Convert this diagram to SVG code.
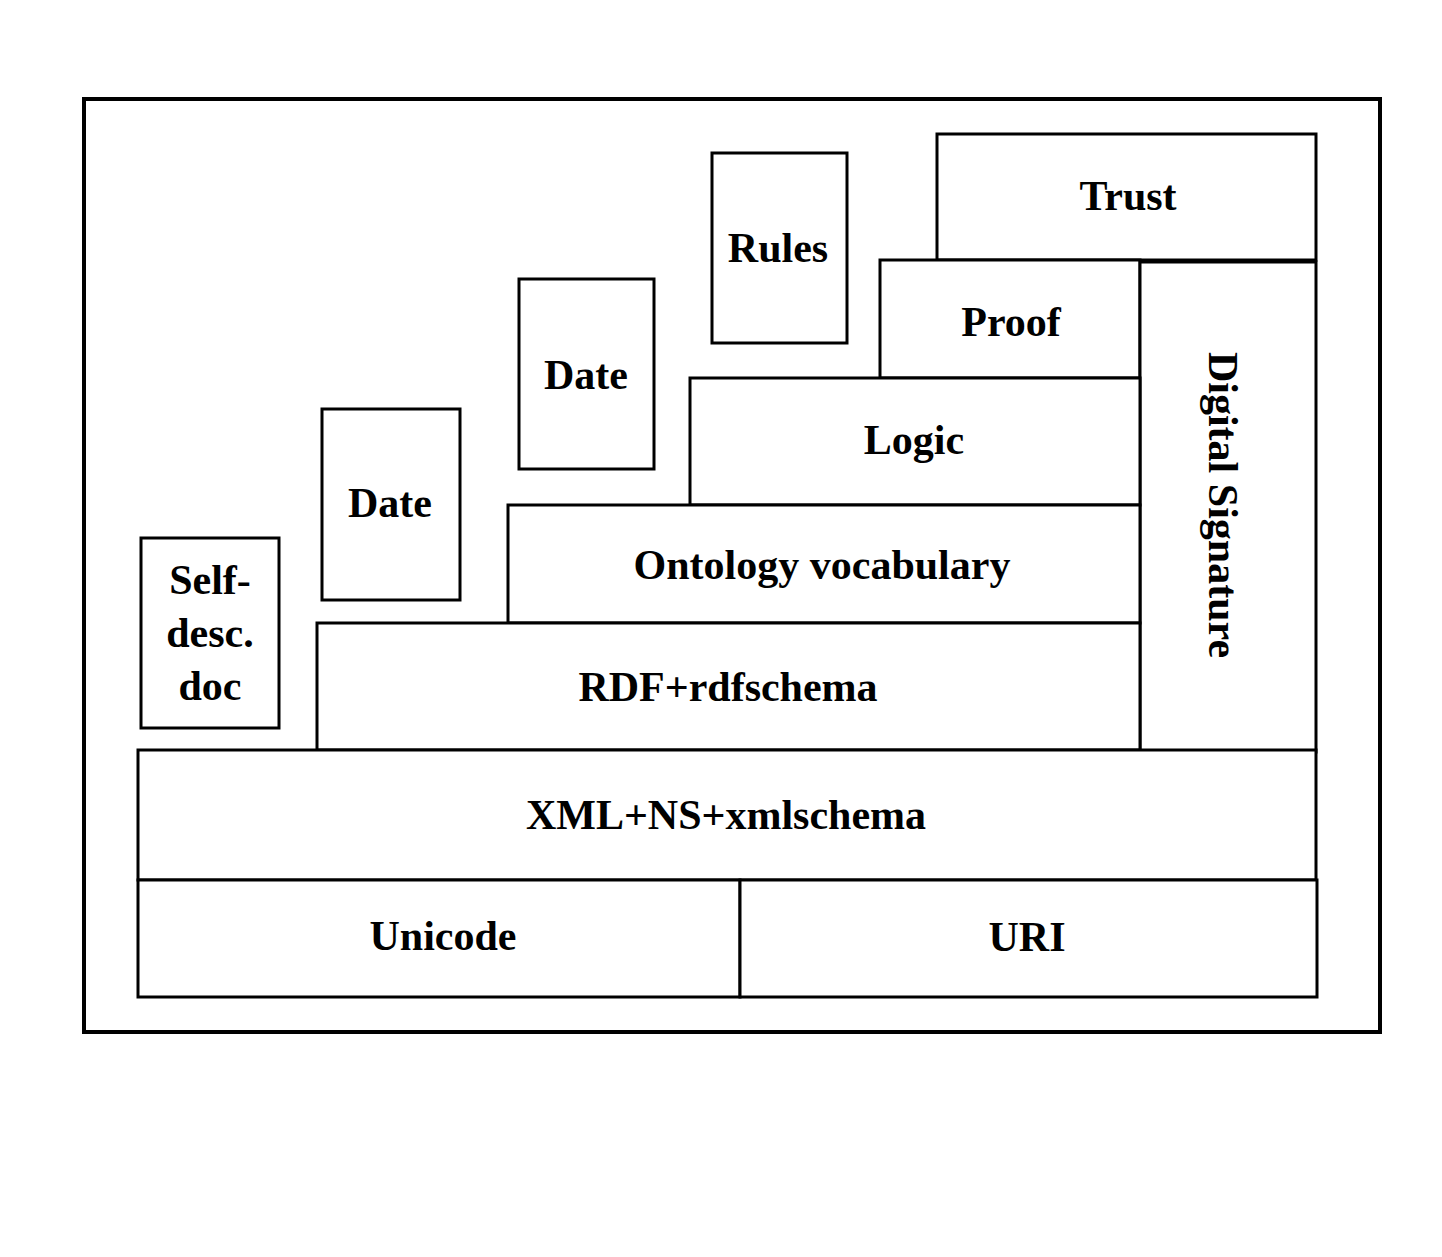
<svg xmlns="http://www.w3.org/2000/svg" width="1442" height="1257" viewBox="0 0 1442 1257">
<style>
.box{fill:#fff;stroke:#000;stroke-width:3}
.frame{fill:none;stroke:#000;stroke-width:4}
text{font-family:"Liberation Serif","Times New Roman",serif;font-weight:bold;font-size:42px;fill:#000;text-anchor:middle}
</style>
<rect width="1442" height="1257" fill="#fff"/>
<rect class="frame" x="84" y="99" width="1296" height="933"/>
<g id="trust"><rect class="box" x="937" y="134" width="379" height="126"/><text x="1128" y="210">Trust</text></g>
<g id="rules"><rect class="box" x="712" y="153" width="135" height="190"/><text x="778" y="262">Rules</text></g>
<g id="date2"><rect class="box" x="519" y="279" width="135" height="190"/><text x="586" y="389">Date</text></g>
<g id="proof"><rect class="box" x="880" y="260" width="260" height="118"/><text x="1011" y="336">Proof</text></g>
<g id="digsig"><rect class="box" x="1140" y="262" width="176" height="490"/><text transform="translate(1209,505) rotate(90)">Digital Signature</text></g>
<g id="logic"><rect class="box" x="690" y="378" width="450" height="127"/><text x="914" y="454">Logic</text></g>
<g id="ontology"><rect class="box" x="508" y="505" width="632" height="118"/><text x="822" y="579">Ontology vocabulary</text></g>
<g id="date1"><rect class="box" x="322" y="409" width="138" height="191"/><text x="390" y="517">Date</text></g>
<g id="selfdesc"><rect class="box" x="141" y="538" width="138" height="190"/><text x="210" y="594">Self-</text><text x="210" y="647">desc.</text><text x="210" y="700">doc</text></g>
<g id="rdf"><rect class="box" x="317" y="623" width="823" height="127"/><text x="728" y="701">RDF+rdfschema</text></g>
<g id="xml"><rect class="box" x="138" y="750" width="1178" height="130"/><text x="726" y="829">XML+NS+xmlschema</text></g>
<g id="unicode"><rect class="box" x="138" y="880" width="602" height="117"/><text x="443" y="950">Unicode</text></g>
<g id="uri"><rect class="box" x="740" y="880" width="577" height="117"/><text x="1027" y="951">URI</text></g>
<g id="connectors"></g>
</svg>
